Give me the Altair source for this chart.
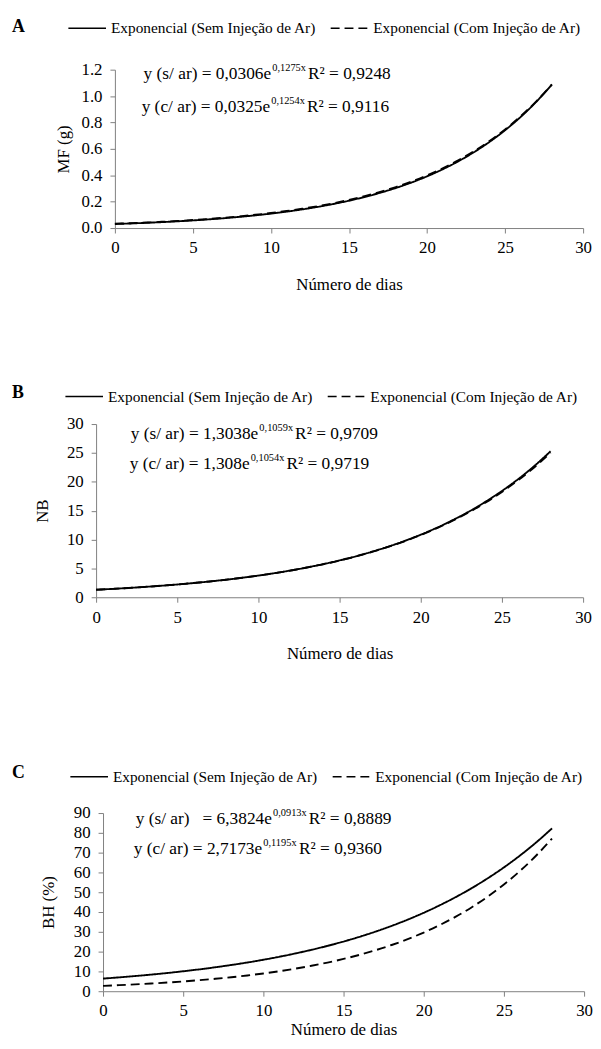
import altair as alt
import pandas as pd

# ---------------- data ----------------
DAYS = list(range(29))
SERIES = ["Exponencial (Sem Injeção de Ar)", "Exponencial (Com Injeção de Ar)"]

MF_SEM = [0.0306, 0.0348, 0.0395, 0.0449, 0.0510, 0.0579, 0.0658, 0.0747, 0.0849, 0.0964,
          0.1095, 0.1244, 0.1413, 0.1605, 0.1824, 0.2071, 0.2353, 0.2673, 0.3036, 0.3449,
          0.3918, 0.4451, 0.5056, 0.5744, 0.6525, 0.7413, 0.8421, 0.9566, 1.0867]
MF_COM = [0.0325, 0.0368, 0.0418, 0.0473, 0.0537, 0.0608, 0.0690, 0.0782, 0.0886, 0.1004,
          0.1139, 0.1291, 0.1463, 0.1659, 0.1880, 0.2132, 0.2417, 0.2740, 0.3106, 0.3521,
          0.3991, 0.4524, 0.5129, 0.5814, 0.6591, 0.7472, 0.8469, 0.9601, 1.0884]

NB_SEM = [1.304, 1.449, 1.611, 1.791, 1.991, 2.214, 2.461, 2.736, 3.042, 3.381,
          3.759, 4.179, 4.646, 5.165, 5.742, 6.384, 7.097, 7.890, 8.771, 9.751,
          10.84, 12.05, 13.40, 14.89, 16.56, 18.41, 20.46, 22.75, 25.29]
NB_COM = [1.308, 1.453, 1.615, 1.795, 1.994, 2.216, 2.462, 2.736, 3.040, 3.378,
          3.754, 4.171, 4.635, 5.150, 5.723, 6.359, 7.066, 7.851, 8.724, 9.694,
          10.77, 11.97, 13.30, 14.78, 16.42, 18.25, 20.27, 22.52, 25.03]

BH_SEM = [6.382, 6.993, 7.661, 8.393, 9.196, 10.08, 11.04, 12.09, 13.25, 14.51,
          15.90, 17.42, 19.09, 20.91, 22.91, 25.10, 27.50, 30.13, 33.01, 36.17,
          39.63, 43.42, 47.57, 52.11, 57.10, 62.55, 68.53, 75.08, 82.26]
BH_COM = [2.717, 3.062, 3.451, 3.889, 4.382, 4.939, 5.565, 6.272, 7.067, 7.964,
          8.975, 10.12, 11.40, 12.85, 14.48, 16.32, 18.39, 20.72, 23.35, 26.31,
          29.65, 33.42, 37.66, 42.44, 47.82, 53.89, 60.73, 68.44, 77.12]

X_TICKS = [0, 5, 10, 15, 20, 25, 30]
MF_TICKS = [0.0, 0.2, 0.4, 0.6, 0.8, 1.0, 1.2]
NB_TICKS = [0, 5, 10, 15, 20, 25, 30]
BH_TICKS = [0, 10, 20, 30, 40, 50, 60, 70, 80, 90]

X_TITLE = "Número de dias"
Y_TITLES = ["MF (g)", "NB", "BH (%)"]
LETTERS = ["A", "B", "C"]

EQ_A = [("y (s/ ar) = 0,0306e", "0,1275x", "R² = 0,9248"),
        ("y (c/ ar) = 0,0325e", "0,1254x", "R² = 0,9116")]
EQ_B = [("y (s/ ar) = 1,3038e", "0,1059x", "R² = 0,9709"),
        ("y (c/ ar) = 1,308e", "0,1054x", "R² = 0,9719")]
EQ_C = [("y (s/ ar)\u2002 = 6,3824e", "0,0913x", "R² = 0,8889"),
        ("y (c/ ar) = 2,7173e", "0,1195x", "R² = 0,9360")]

# ---------------- styling / layout ----------------
FONT = "Liberation Serif"
AXIS_GRAY = "#808080"
EQ_SIZE = 17.5
EXP_SIZE = 10.5

# approximate Times/Liberation Serif advance widths (per 1000 em) for placing the exponent
GLYPH_W = {' ': 250, '(': 333, ')': 333, '/': 278, '=': 564, ',': 250, '.': 250,
           'a': 444, 'c': 444, 'e': 444, 'r': 333, 's': 389, 'y': 500, 'x': 500,
           'R': 667, '²': 300, '\u2002': 500, '\u00a0': 250}


def text_w(s, size):
    return sum(GLYPH_W.get(ch, 500) for ch in s) * size / 1000.0


def panel(letter, sem, com, ytitle, yticks, yfmt, eqs, st):
    df = pd.DataFrame({
        "dia": DAYS + DAYS,
        "valor": sem + com,
        "serie": [SERIES[0]] * len(DAYS) + [SERIES[1]] * len(DAYS),
    })
    lines = alt.Chart(df).mark_line(color="black", strokeWidth=1.9, interpolate="monotone").encode(
        x=alt.X("dia:Q",
                scale=alt.Scale(domain=[X_TICKS[0], X_TICKS[-1]], nice=False, zero=False,
                                range=[st["shift"], st["w"]]),
                axis=alt.Axis(values=X_TICKS, title=X_TITLE, grid=False,
                              domainColor=AXIS_GRAY, tickColor=AXIS_GRAY, tickSize=5,
                              labelFont=FONT, labelFontSize=17, labelColor="black",
                              labelPadding=7, titleFont=FONT, titleFontSize=17,
                              titleFontWeight="normal", titleColor="black",
                              titlePadding=st["xtp"], labelFlush=False,
                              titleX=(st["shift"] + st["w"]) / 2)),
        y=alt.Y("valor:Q",
                scale=alt.Scale(domain=[yticks[0], yticks[-1]], nice=False),
                axis=alt.Axis(values=yticks, format=yfmt, title=ytitle, grid=False,
                              domainColor=AXIS_GRAY, tickColor=AXIS_GRAY, tickSize=5,
                              labelFont=FONT, labelFontSize=17, labelColor="black",
                              labelPadding=8, titleFont=FONT, titleFontSize=17,
                              titleFontWeight="normal", titleColor="black",
                              titlePadding=st["ytp"], labelFlush=False,
                              offset=-st["shift"])),
        strokeDash=alt.StrokeDash(
            "serie:N",
            scale=alt.Scale(domain=SERIES, range=[[1, 0], [9, 5]]),
            legend=alt.Legend(orient="none", legendX=st["lx"], legendY=st["ly"],
                              direction="horizontal", title=None, symbolType="stroke",
                              symbolSize=1444, symbolStrokeWidth=1.5,
                              symbolStrokeColor="black", labelFont=FONT,
                              labelFontSize=15.5, labelColor="black", labelOffset=4,
                              columnPadding=11, padding=0, labelLimit=400)),
    )
    layers = [lines]
    letter_df = pd.DataFrame({"t": [letter]})
    layers.append(alt.Chart(letter_df).mark_text(
        font=FONT, fontSize=18, fontWeight="bold", align="left", baseline="middle",
        color="black").encode(x=alt.value(st["letx"]), y=alt.value(st["lety"]), text="t:N"))
    for (base, expo, r2), (ex, ey) in zip(eqs, st["eq"]):
        edx = text_w(base, EQ_SIZE) + 1
        rdx = edx + text_w(expo, EXP_SIZE) + 2
        for txt, dx, size, dy in ((base, 0, EQ_SIZE, 0), (expo, edx, EXP_SIZE, -6),
                                  (r2, rdx, EQ_SIZE, 0)):
            layers.append(alt.Chart(pd.DataFrame({"t": [txt]})).mark_text(
                font=FONT, fontSize=size, align="left", baseline="middle", color="black",
                dx=dx, dy=dy).encode(x=alt.value(ex), y=alt.value(ey), text="t:N"))
    return alt.layer(*layers).properties(width=st["w"], height=st["h"])


# all panels share the plot origin (x = 97 px on the page); "shift" moves each panel's
# own axis to where it sits in the reference
ST_A = dict(w=492, shift=19, h=160, ytp=9, xtp=21, lx=-29, ly=-62, letx=-85, lety=-43,
            eq=[(48, 4), (46, 38)])
ST_B = dict(w=492, shift=0, h=175, ytp=15, xtp=21, lx=-32, ly=-48, letx=-85, lety=-31,
            eq=[(35, 10), (34, 40)])
ST_C = dict(w=493, shift=7, h=180, ytp=16, xtp=3, lx=-27, ly=-57, letx=-85, lety=-40,
            eq=[(40, 6), (38, 36)])

pa = panel(LETTERS[0], MF_SEM, MF_COM, Y_TITLES[0], MF_TICKS, ".1f", EQ_A, ST_A)
pb = panel(LETTERS[1], NB_SEM, NB_COM, Y_TITLES[1], NB_TICKS, "d", EQ_B, ST_B)
pc = panel(LETTERS[2], BH_SEM, BH_COM, Y_TITLES[2], BH_TICKS, "d", EQ_C, ST_C)

top = alt.vconcat(pa, pb, spacing=85).resolve_scale(
    strokeDash="independent").resolve_legend(strokeDash="independent")

PAD = {"left": 4, "top": -5, "right": 0, "bottom": 0}
chart = alt.vconcat(top, pc, spacing=96).resolve_scale(
    strokeDash="independent").resolve_legend(strokeDash="independent").properties(
    padding=PAD
).configure(background="white", padding=PAD).configure_view(stroke=None)

chart.save("out.html", embed_options={"renderer": "svg", "actions": False})
